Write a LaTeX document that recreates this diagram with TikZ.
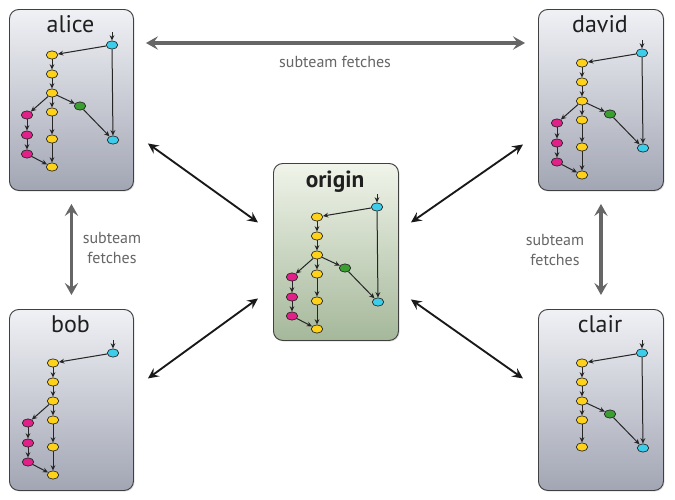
\documentclass[tikz,border=0pt]{standalone}
\usepackage{fontspec}
\setmainfont{PT Sans}
\usetikzlibrary{shapes.geometric,arrows.meta,calc,shadows}
\definecolor{cyanc}{HTML}{3CCDEA}
\definecolor{yellowc}{HTML}{FFD21A}
\definecolor{magc}{HTML}{E2208A}
\definecolor{greenc}{HTML}{3A9E30}
\definecolor{boxtop}{HTML}{F0F1F5}
\definecolor{boxbot}{HTML}{A2A6B4}
\definecolor{gboxtop}{HTML}{F0F4EA}
\definecolor{gboxbot}{HTML}{A5B89A}
\definecolor{fetchgray}{HTML}{666666}
\tikzset{
  commit/.style={ellipse, draw=black!85, line width=0.5pt, minimum width=8.6pt, minimum height=6.2pt, inner sep=0pt},
  cy/.style={commit, fill=cyanc},
  yl/.style={commit, fill=yellowc},
  mg/.style={commit, fill=magc},
  gr/.style={commit, fill=greenc},
  edge/.style={-{Stealth[length=4pt,width=3.6pt]}, line width=0.75pt, draw=black!85},
  repo/.style={draw=black!75, line width=0.7pt, rounded corners=7pt, top color=boxtop, bottom color=boxbot,
     minimum width=93pt, minimum height=135.75pt, inner sep=0pt, anchor=north west,
     drop shadow={opacity=0.25, shadow xshift=0.8pt, shadow yshift=-0.8pt}},
  originrepo/.style={repo, top color=gboxtop, bottom color=gboxbot, minimum width=93.75pt, minimum height=132.75pt},
  title/.style={anchor=base, font=\fontsize{18}{20}\selectfont, text=black!88, inner sep=0pt},
  fetch/.style={{Stealth[length=9pt,width=10pt,inset=3.5pt]}-{Stealth[length=9pt,width=10pt,inset=3.5pt]}, line width=2.4pt, draw=fetchgray},
  sync/.style={{Stealth[length=8pt,width=7.5pt,inset=3pt]}-{Stealth[length=8pt,width=7.5pt,inset=3pt]}, line width=1.4pt, draw=black!90},
  fetchlabel/.style={font=\fontsize{12}{15}\selectfont, text=fetchgray, align=center, inner sep=0pt}
}
\newcommand\repotrunk[1]{%
  \coordinate (#1in) at (104,31);
  \node[cy] (#1c1) at (104,44) {};
  \node[yl] (#1y1) at (44,54) {};
  \node[yl] (#1y2) at (44,73) {};
  \node[yl] (#1y3) at (44,92) {};
  \node[yl] (#1y4) at (44,111) {};
  \node[yl] (#1y5) at (44,138) {};
  \draw[edge] (#1in) -- (#1c1);
  \draw[edge] (#1c1) -- (#1y1);
  \draw[edge] (#1y1) -- (#1y2);
  \draw[edge] (#1y2) -- (#1y3);
  \draw[edge] (#1y3) -- (#1y4);
  \draw[edge] (#1y4) -- (#1y5);
}
\newcommand\reposide[1]{%
  \node[mg] (#1m1) at (19,114) {};
  \node[mg] (#1m2) at (19,134) {};
  \node[mg] (#1m3) at (19,153) {};
  \node[yl] (#1y6) at (44,166) {};
  \draw[edge] (#1y3) -- (#1m1);
  \draw[edge] (#1m1) -- (#1m2);
  \draw[edge] (#1m2) -- (#1m3);
  \draw[edge] (#1m3) -- (#1y6);
  \draw[edge] (#1y5) -- (#1y6);
}
\newcommand\repogreen[1]{%
  \node[gr] (#1g) at (72,105) {};
  \node[cy] (#1c2) at (105,139) {};
  \draw[edge] (#1y3) -- (#1g);
  \draw[edge] (#1g) -- (#1c2);
  \draw[edge] (#1c1) -- (#1c2);
}
\begin{document}
\begin{tikzpicture}[x=0.75pt, y=-0.75pt]
  \useasboundingbox (0,0) rectangle (675,500);
  \fill[white] (0,0) rectangle (675,500);

  % repository boxes
  \node[repo] (alice) at (9,9) {};
  \node[repo, minimum width=93.75pt] (david) at (538,9) {};
  \node[repo] (bob) at (9,309) {};
  \node[repo, minimum width=93.75pt] (clair) at (538,309) {};
  \node[originrepo] (origin) at (273,163) {};

  % titles
  \node[title] (alicet) at (70.5,32.5) {alice};
  \node[title] (davidt) at (600,32.5) {david};
  \node[title] (bobt) at (70.5,332.5) {bob};
  \node[title] (clairt) at (600,332.5) {clair};
  \node[title, font=\fontsize{17.5}{20}\bfseries\selectfont] (origint) at (335,187) {origin};

  % commit graphs
  \begin{scope}[shift={(8,1)}]
    \repotrunk{a} \reposide{a} \repogreen{a}
  \end{scope}
  \begin{scope}[shift={(273,163)}]
    \repotrunk{o} \reposide{o} \repogreen{o}
  \end{scope}
  \begin{scope}[shift={(538,9)}]
    \repotrunk{d} \reposide{d} \repogreen{d}
  \end{scope}
  \begin{scope}[shift={(9,309)}]
    \repotrunk{b} \reposide{b}
  \end{scope}
  \begin{scope}[shift={(538,309)}]
    \repotrunk{c} \repogreen{c}
  \end{scope}

  % subteam fetches
  \draw[fetch] ($(alice.north east)+(12,34)$) -- ($(david.north west)+(-13,34)$);
  \node[fetchlabel] (topl) at (335,62) {subteam fetches};
  \draw[fetch, line width=2.8pt, shorten <=13pt*0.75, shorten >=14pt*0.75] (alice.south) -- (bob.north);
  \node[fetchlabel] (leftl) at (112,248) {subteam\\fetches};
  \draw[fetch, line width=2.8pt, shorten <=13pt*0.75, shorten >=14pt*0.75] (david.south) -- (clair.north);
  \node[fetchlabel] (rightl) at (555,250) {subteam\\fetches};

  % sync with origin
  \draw[sync] ($(alice.east)+(14,43.5)$) -- ($(origin.west)+(-15,-29.5)$);
  \draw[sync] ($(bob.east)+(14,-21.5)$) -- ($(origin.west)+(-15,46.5)$);
  \draw[sync] ($(david.west)+(-15,44.5)$) -- ($(origin.east)+(12,-29.5)$);
  \draw[sync] ($(origin.east)+(12,47.5)$) -- ($(clair.west)+(-15,-21.5)$);
\end{tikzpicture}
\end{document}
